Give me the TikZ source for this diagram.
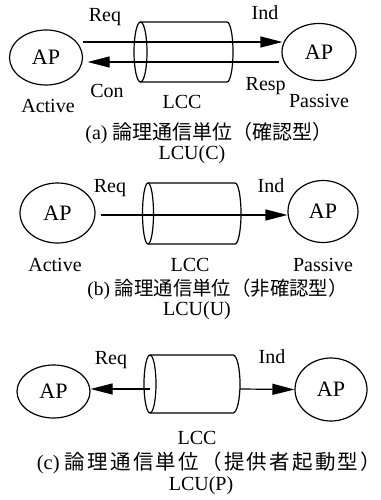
\documentclass[tikz,border=0pt]{standalone}
\usepackage{fontspec}
\setmainfont{Liberation Serif}
\newfontfamily\jp{Noto Sans CJK JP}
\newfontfamily\jpwide[LetterSpace=11]{Noto Sans CJK JP}
\usetikzlibrary{shapes.geometric,arrows.meta}
\tikzset{
  ap/.style={draw, ellipse, line width=1.2pt, inner sep=0pt, font=\fontsize{22}{24}\selectfont},
  lbl/.style={anchor=base, inner sep=0pt, font=\fontsize{20}{24}\selectfont},
  captxt/.style={anchor=base, inner sep=0pt, font=\fontsize{20}{24}\selectfont},
  cylend/.style={draw, ellipse, line width=1.2pt, inner sep=0pt, outer sep=0pt},
  cylbody/.style={line width=1.2pt},
  arr/.style={line width=1.2pt, -{Triangle[length=22pt,width=11pt]}},
}
\begin{document}
\begin{tikzpicture}[x=1pt,y=-1pt]
\useasboundingbox (0,0) rectangle (380,500);
% ---------- (a) ----------
\node[ap, minimum width=73pt, minimum height=55pt] (aL) at (46,57.5) {AP};
\node[ap, minimum width=74pt, minimum height=57pt] (aR) at (319,52) {AP};
\node[cylend, minimum width=13pt, minimum height=60pt] (cylA) at (140.5,52) {};
\draw[cylbody] (cylA.north) -- ++(86.5,0) arc[start angle=90,end angle=-90,x radius=6pt,y radius=30pt] -- (cylA.south);
\draw[arr] ([yshift=15.5pt]aL.east) -- ([xshift=1pt,yshift=10pt]aR.west);
\draw[arr] ([xshift=-2pt,yshift=-10pt]aR.west) -- ([xshift=4.5pt,yshift=-4.5pt]aL.east);
\node[lbl] (aReq) at (105,21.5) {Req};
\node[lbl] (aInd) at (265,20) {Ind};
\node[lbl] (aCon) at (107,98) {Con};
\node[lbl] (aLCC) at (182,109) {LCC};
\node[lbl] (aResp) at (265.7,91) {Resp};
\node[lbl] (aPas) at (319,108) {Passive};
\node[lbl] (aAct) at (48,113) {Active};
\node[captxt] (aCap) at (209,139.5) {(a) {\jp 論理通信単位（確認型）}};
\node[lbl] (aLCU) at (192,159.5) {LCU(C)};
% ---------- (b) ----------
\node[ap, minimum width=75pt, minimum height=60pt] (bL) at (57.5,213) {AP};
\node[ap, minimum width=70pt, minimum height=62pt] (bR) at (323,211.5) {AP};
\node[cylend, minimum width=11pt, minimum height=61pt] (cylB) at (148,213.5) {};
\draw[cylbody] (cylB.north) -- ++(87,0) arc[start angle=90,end angle=-90,x radius=6pt,y radius=30.5pt] -- (cylB.south);
\draw[arr] ([xshift=5pt,yshift=-2pt]bL.east) -- ([yshift=-3.5pt]bR.west);
\node[lbl] (bReq) at (110,192.5) {Req};
\node[lbl] (bInd) at (271,192.5) {Ind};
\node[lbl] (bAct) at (55,271) {Active};
\node[lbl] (bLCC) at (190,271) {LCC};
\node[lbl] (bPas) at (323,271) {Passive};
\node[captxt, font=\fontsize{19.4}{24}\selectfont] (bCap) at (217.5,295.5) {(b) {\jp 論理通信単位（非確認型）}};
\node[lbl] (bLCU) at (197,315) {LCU(U)};
% ---------- (c) ----------
\node[ap, minimum width=73pt, minimum height=53pt] (cL) at (53.5,391.5) {AP};
\node[ap, minimum width=72pt, minimum height=63pt] (cR) at (331,389.5) {AP};
\node[cylend, minimum width=12pt, minimum height=58pt] (cylC) at (150,384) {};
\draw[cylbody] (cylC.north) -- ++(83,0) arc[start angle=90,end angle=-90,x radius=7pt,y radius=29pt] -- (cylC.south);
\coordinate (cS) at ([shift={(0,5)}]cylC.center);
\coordinate (cE) at ([shift={(90,5)}]cylC.center);
\draw[arr] (cS) -- ([yshift=2.5pt]cL.east);
\draw[arr] (cE) -- (cR.west);
\node[lbl] (cReq) at (111,364) {Req};
\node[lbl] (cInd) at (272,363) {Ind};
\node[lbl] (cLCC) at (197,444.5) {LCC};
\node[captxt, font=\fontsize{20.5}{24}\selectfont] (cCap) at (209,469) {(c) {\jpwide 論理通信単位（提供者起動型）}};
\node[lbl] (cLCU) at (201,490) {LCU(P)};
\end{tikzpicture}
\end{document}
